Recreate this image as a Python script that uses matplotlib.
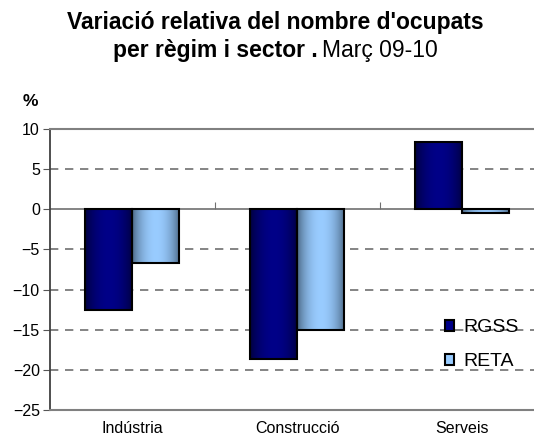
import numpy as np
import matplotlib
matplotlib.use("Agg")
import matplotlib.pyplot as plt
from matplotlib.patches import Patch

plt.rcParams['font.family'] = ['Liberation Sans', 'DejaVu Sans']

# dades
sectors = ["Indústria", "Construcció", "Serveis"]
rgss = [-12.6, -18.7, 8.4]
reta = [-6.7, -15.0, -0.5]
series = ["RGSS", "RETA"]
yticks = [10, 5, 0, -5, -10, -15, -20, -25]

# colors (vora fosca, centre clar) per simular el degradat
colors = {
    "RGSS": ("#00003a", "#000088"),
    "RETA": ("#45607c", "#99ccff"),
}

fig = plt.figure(figsize=(5.34, 4.45), dpi=100)
ax = fig.add_axes([49.5 / 534, 1 - 410 / 445, 495 / 534, 281 / 445])

x = np.arange(len(sectors))
w = 0.285

def grad_img(dark, light, n=64):
    d = np.array(matplotlib.colors.to_rgb(dark))
    l = np.array(matplotlib.colors.to_rgb(light))
    t = np.linspace(0, 1, n)
    k = np.sin(np.pi * t) ** 0.7
    img = d[None, :] + (l - d)[None, :] * k[:, None]
    return img[None, :, :]

for i, (name, vals) in enumerate(zip(series, [rgss, reta])):
    bars = ax.bar(x - w / 2 + i * w, vals, w, facecolor="none",
                  edgecolor="black", linewidth=1.5, zorder=4)
    img = grad_img(*colors[name])
    for b in bars:
        x0, y0 = b.get_xy()
        ax.imshow(img, extent=[x0, x0 + b.get_width(), y0, y0 + b.get_height()],
                  aspect="auto", zorder=3, interpolation="bilinear")

ax.set_xlim(-0.5, 2.5)
ax.set_ylim(-25, 10)

# línies de la graella
for v in yticks:
    if v in (10, -25):
        continue
    if v == 0:
        ax.axhline(v, color="#707070", lw=1.2, zorder=2)
    else:
        ax.axhline(v, color="#707070", lw=1.2, ls=(0, (5, 4)), zorder=1)

ax.set_yticks(yticks)
ax.tick_params(axis="y", direction="out", length=5, color="#555555",
               labelsize=11.5, pad=2)
ax.set_xticks(x)
ax.set_xticklabels(sectors)
ax.tick_params(axis="x", length=0, labelsize=11.5, pad=8)

for s in ["top", "bottom"]:
    ax.spines[s].set_color("#808080")
    ax.spines[s].set_linewidth(1.5)
ax.spines["left"].set_color("#404040")
ax.spines["left"].set_linewidth(1.3)
ax.spines["right"].set_visible(False)

# marques de categoria sobre la línia del zero
sec = ax.secondary_xaxis(25 / 35)
sec.set_xticks([0.5, 1.5])
sec.set_xticklabels(["", ""])
sec.tick_params(direction="out", length=5, color="#707070")
sec.spines["bottom"].set_visible(False)
sec.spines["top"].set_visible(False)

# títol
tfs = 16.5
fig.text(275.5 / 534, 1 - 22 / 445, "Variació relativa del nombre d'ocupats",
         ha="center", va="center", fontsize=tfs, fontweight="bold")
t1 = fig.text(0, 1 - 51 / 445, "per règim i sector .",
              ha="left", va="center", fontsize=tfs, fontweight="bold")
t2 = fig.text(0, 1 - 51 / 445, "Març 09-10",
              ha="left", va="center", fontsize=tfs)
r = fig.canvas.get_renderer()
w1 = t1.get_window_extent(r).width
w2 = t2.get_window_extent(r).width
gap = 5
start = 275.5 - (w1 + gap + w2) / 2
t1.set_x(start / 534)
t2.set_x((start + w1 + gap) / 534)
fig.text(30 / 534, 1 - 101 / 445, "%", ha="center", va="center",
         fontsize=12.5, fontweight="bold")

handles = [Patch(facecolor=colors[s][1], edgecolor="black", lw=1.5) for s in series]
fig.legend(handles, series, loc="upper left",
           bbox_to_anchor=(427 / 534, 1 - 302 / 445), frameon=False,
           fontsize=14, handlelength=0.5, handleheight=0.5,
           handletextpad=0.45, labelspacing=0.85)

fig.savefig("out.png", dpi=100)
